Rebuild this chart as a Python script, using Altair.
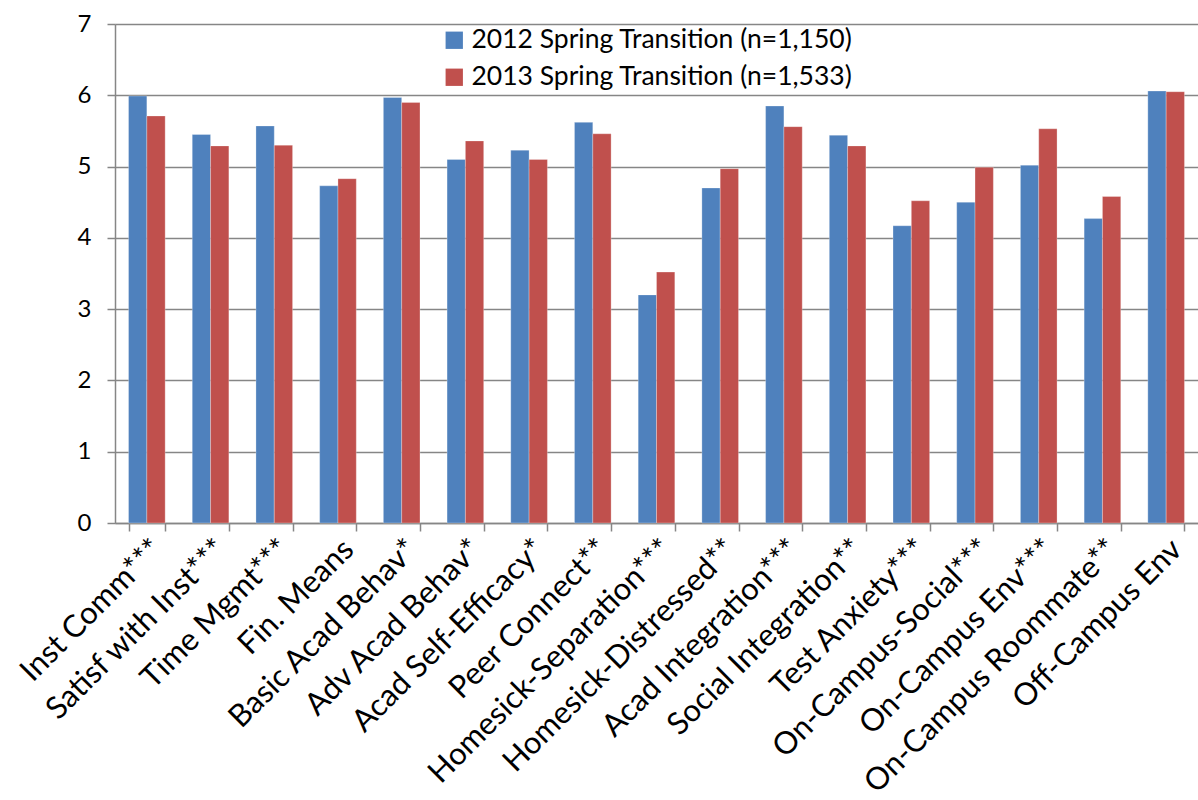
import altair as alt
import pandas as pd

categories = [
    "Inst Comm***", "Satisf with Inst***", "Time Mgmt***", "Fin. Means",
    "Basic Acad Behav*", "Adv Acad Behav*", "Acad Self-Efficacy*", "Peer Connect**",
    "Homesick-Separation***", "Homesick-Distressed**", "Acad Integration***",
    "Social Integration**", "Test Anxiety***", "On-Campus-Social***",
    "On-Campus Env***", "On-Campus Roommate**", "Off-Campus Env",
]
series_names = ["2012 Spring Transition (n=1,150)", "2013 Spring Transition (n=1,533)"]
values_2012 = [5.99, 5.45, 5.57, 4.73, 5.97, 5.10, 5.23, 5.62, 3.20, 4.70, 5.85, 5.44, 4.17, 4.50, 5.02, 4.27, 6.06]
values_2013 = [5.71, 5.29, 5.30, 4.83, 5.90, 5.36, 5.10, 5.46, 3.52, 4.97, 5.56, 5.29, 4.52, 4.99, 5.53, 4.58, 6.05]
colors = ["#4F81BD", "#C0504D"]

rows = []
for i, c in enumerate(categories):
    rows.append({"cat": c, "series": series_names[0], "value": values_2012[i]})
    rows.append({"cat": c, "series": series_names[1], "value": values_2013[i]})
df = pd.DataFrame(rows)

FONT = "Lato"
GRAY = "#868686"

chart = alt.Chart(df).mark_bar(stroke="#ffffff", strokeOpacity=0.35, strokeWidth=0.8).encode(
    x=alt.X("cat:N", sort=categories, title=None,
            scale=alt.Scale(paddingInner=0.425, paddingOuter=0.2125),
            axis=alt.Axis(labelAngle=-45, labelFontSize=31, labelFont=FONT, labelColor="#000000",
                          tickBand="extent", tickSize=8, tickColor=GRAY, tickWidth=1.5,
                          domainColor=GRAY, domainWidth=1.5, labelPadding=3, labelLimit=500)),
    xOffset=alt.XOffset("series:N", sort=series_names),
    y=alt.Y("value:Q", title=None,
            scale=alt.Scale(domain=[0, 7], nice=False),
            axis=alt.Axis(values=[0, 1, 2, 3, 4, 5, 6, 7], labelFontSize=24, labelFont=FONT,
                          labelColor="#000000", tickSize=8, tickColor=GRAY, tickWidth=1.5,
                          domainColor=GRAY, domainWidth=1.5, grid=True, gridColor=GRAY,
                          gridWidth=1.5, labelPadding=16)),
    color=alt.Color("series:N", sort=series_names,
                    scale=alt.Scale(domain=series_names, range=colors),
                    legend=alt.Legend(title=None, orient="none", legendX=326, legendY=3,
                                      symbolType="square", symbolSize=300, symbolStrokeWidth=0,
                                      labelFontSize=26.5, labelFont=FONT, labelColor="#000000",
                                      rowPadding=10, labelLimit=600)),
).properties(
    width=1083, height=499,
    autosize=alt.AutoSizeParams(type="none"),
    padding={"left": 115, "top": 24, "right": 0, "bottom": 277},
).configure_view(stroke=None).configure(background="#ffffff")

chart.save("out.html", embed_options={"renderer": "svg", "actions": False})
